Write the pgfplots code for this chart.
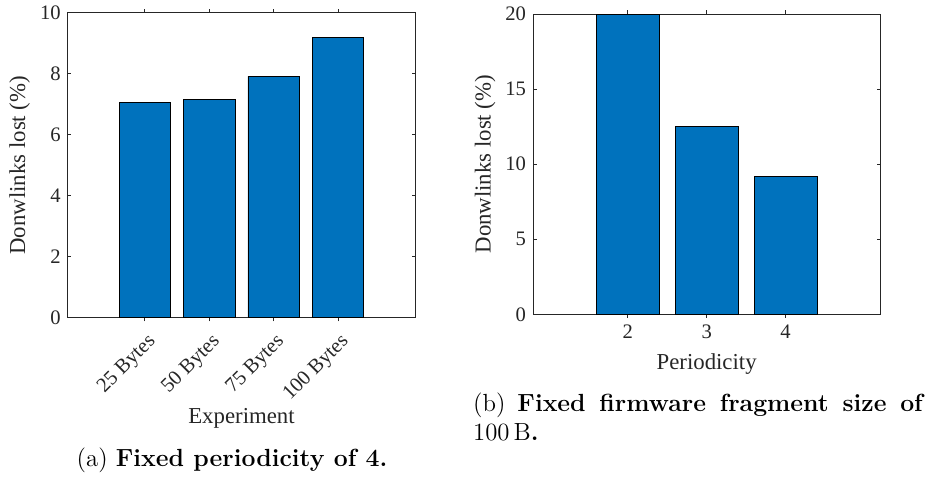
\documentclass[border=0pt]{standalone}
\usepackage{fontspec}
\usepackage{pgfplots}
\pgfplotsset{compat=1.18}
\newfontfamily\axfont{Liberation Serif}
\definecolor{mblue}{RGB}{0,114,189}
\definecolor{axgray}{RGB}{38,38,38}
\pgfplotsset{mystyle/.style={
  scale only axis,
  axis line style={axgray, line width=0.5pt},
  tick style={axgray, line width=0.5pt},
  tick align=inside,
  major tick length=1.8pt,
  ticklabel style={font=\axfont\fontsize{10.3}{12}\selectfont, text=axgray},
  label style={font=\axfont\fontsize{11.4}{13}\selectfont, text=axgray},
  /pgf/number format/assume math mode=true,
  ymin=0,
  ybar,
  bar width=0.8,
}}
\begin{document}
\begin{tikzpicture}
\useasboundingbox (0,0) rectangle (464pt,239pt);
\begin{axis}[mystyle,
  at={(33.85pt,80.15pt)}, anchor=south west,
  width=173.8pt, height=152.5pt,
  xmin=-0.2, xmax=5.2, ymax=10,
  ytick={0,2,...,10},
  xtick={1,2,3,4},
  xticklabels={25 Bytes,50 Bytes,75 Bytes,100 Bytes},
  xticklabel style={rotate=45, anchor=east, yshift=-9pt},
  xlabel={Experiment},
  ylabel={Donwlinks lost (\%)},
  xlabel style={at={(axis description cs:0.5,-0.331)}, anchor=center},
  ylabel style={at={(axis description cs:-0.138,0.5)}, anchor=center},
]
\addplot[fill=mblue, draw=black, line width=0.4pt] coordinates {(1,7.07) (2,7.15) (3,7.91) (4,9.18)};
\end{axis}
\begin{axis}[mystyle,
  at={(266.5pt,81.85pt)}, anchor=south west,
  width=173.65pt, height=150.15pt,
  xmin=0.8, xmax=5.2, ymax=20,
  ytick={0,5,...,20},
  xtick={2,3,4},
  xlabel={Periodicity},
  ylabel={Donwlinks lost (\%)},
  xlabel style={at={(axis description cs:0.5,-0.1655)}, anchor=center},
  ylabel style={at={(axis description cs:-0.138,0.5)}, anchor=center},
]
\addplot[fill=mblue, draw=black, line width=0.4pt] coordinates {(2,20) (3,12.54) (4,9.19)};
\end{axis}
\node[anchor=base, inner sep=0pt, font=\fontsize{12.4}{15}\selectfont] at (116pt,5.65pt) {(a) \textbf{Fixed periodicity of 4.}};
\node[anchor=base west, inner sep=0pt, font=\fontsize{12.4}{15}\selectfont] at (236.35pt,33.15pt) {\makebox[225.8pt][s]{(b) \textbf{Fixed firmware fragment size of}}};
\node[anchor=base west, inner sep=0pt, font=\fontsize{12.4}{15}\selectfont] at (236.35pt,19pt) {100\,B\textbf{.}};
\end{tikzpicture}
\end{document}
